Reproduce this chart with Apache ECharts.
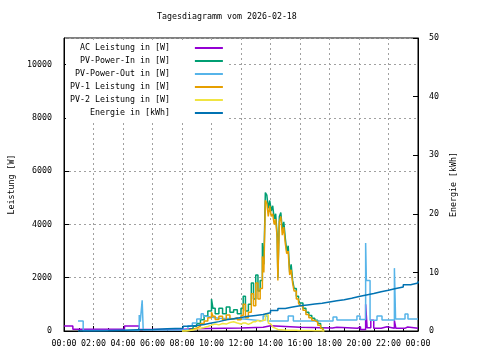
<!DOCTYPE html>
<html><head><meta charset="utf-8">
<script src="https://cdn.jsdelivr.net/npm/echarts@6/dist/echarts.min.js"></script>
<style>html,body{margin:0;padding:0;background:#fff}#c{width:480px;height:360px}</style>
</head><body><div id="c"></div>
<script>
// ---- data (hours of day) ----
var seriesNames = ['AC Leistung in [W]','PV-Power-In in [W]','PV-Power-Out in [W]','PV-1 Leistung in [W]','PV-2 Leistung in [W]','Energie in [kWh]'];
var seriesColors = ['#9400d3','#009e73','#56b4e9','#e69f00','#f0e442','#0072b2'];
var xTickHours = [0,2,4,6,8,10,12,14,16,18,20,22,24];

var acT = [0, 0.6, 4.1, 5.1, 8.0, 8.6, 12.0, 13.5, 14.0, 16.0, 18.2, 18.5, 19.9, 20.1, 20.45, 20.55, 20.8, 21.0, 21.5, 21.9, 22.4, 22.5, 23.1, 23.3, 24];
var acV = [190, 65, 190, 60, 80, 110, 140, 200, 140, 110, 140, 100, 160, 60, 1000, 120, 400, 100, 160, 100, 400, 100, 150, 100, 100];

var pvoT = [0.95, 1.3, 5.1, 5.17, 5.3, 5.37, 8.1, 8.4, 8.7, 9.0, 9.3, 9.45, 9.6, 10.5, 12.2, 13.5, 13.8, 15.2, 15.55, 18.24, 18.5, 19.86, 20.07, 20.45, 20.5, 20.75, 21.22, 21.56, 22.4, 22.48, 23.12, 23.32, 24];
var pvoV = [375, 20, 600, 350, 1150, 40, 60, 200, 300, 450, 650, 550, 480, 450, 380, 560, 380, 560, 380, 530, 410, 560, 430, 3300, 1900, 400, 560, 410, 2360, 450, 640, 450, 450];

var enT = [0.95, 2, 3, 3.6, 5, 6, 7, 8.07, 8.5, 9, 9.5, 10, 10.5, 11, 11.5, 12, 12.5, 13, 13.5, 14, 14.5, 15, 15.5, 16, 16.5, 17, 17.5, 18, 18.5, 19, 19.5, 20, 20.5, 21, 21.5, 22, 22.5, 23, 23.5, 24];
var enV = [0.02, 0.05, 0.1, 0.2, 0.25, 0.4, 0.45, 0.8, 0.95, 1.1, 1.35, 1.6, 1.9, 2.1, 2.3, 2.5, 2.65, 2.8, 3.1, 3.5, 3.85, 4.1, 4.3, 4.45, 4.6, 4.75, 4.95, 5.15, 5.35, 5.6, 5.9, 6.15, 6.4, 6.7, 6.95, 7.25, 7.5, 7.9, 8.2, 8.5];

var pvT = [8.0, 8.25, 8.5, 8.75, 9.0, 9.25, 9.5, 9.75, 10.0, 10.1,
           10.25, 10.5, 10.75, 11.0, 11.25, 11.5, 11.75, 12.0, 12.15, 12.3,
           12.5, 12.7, 12.85, 13.0, 13.15, 13.3, 13.45, 13.55, 13.65, 13.75,
           13.85, 13.95, 14.05, 14.15, 14.25, 14.35, 14.45, 14.5, 14.6, 14.7,
           14.8, 14.9, 15.0, 15.1, 15.2, 15.3, 15.4, 15.5, 15.6, 15.75,
           15.9, 16.0, 16.2, 16.4, 16.6, 16.8, 17.0, 17.2, 17.4, 17.55,
           17.65];
var pvInV = [0, 40, 100, 180, 280, 420, 560, 750, 1200, 850,
             650, 850, 650, 900, 700, 800, 650, 850, 1300, 750,
             1000, 1800, 1200, 2100, 1500, 1900, 3300, 2500, 5200, 5100,
             4600, 4900, 4500, 4700, 4200, 4400, 3600, 2000, 4300, 4450,
             3800, 4100, 3500, 3000, 3200, 2200, 2500, 1900, 1600, 1300,
             1150, 1050, 850, 700, 580, 480, 400, 280, 120, 20,
             0];
var pv1V = [0, 20, 60, 110, 180, 280, 380, 500, 700, 550,
            430, 550, 420, 600, 450, 500, 420, 580, 1000, 500,
            700, 1400, 950, 1800, 1200, 1600, 2800, 2200, 4900, 4800,
            4300, 4700, 4300, 4400, 4000, 4200, 3500, 1900, 4100, 4300,
            3600, 3900, 3300, 2900, 3000, 2100, 2300, 1800, 1500, 1200,
            1050, 950, 780, 620, 500, 400, 330, 220, 90, 10,
            0];
var pv2V = [0, 20, 40, 70, 100, 130, 170, 220, 280, 260,
            230, 280, 260, 320, 350, 300, 260, 300, 300, 250,
            300, 350, 350, 400, 350, 400, 450, 400, 650, 600,
            300, 250, 200, 150, 100, 80, 60, 50, 50, 40,
            40, 40, 30, 30, 30, 30, 30, 30, 30, 20,
            20, 20, 20, 20, 20, 10, 10, 10, 0, 0,
            0];

// ---- chart ----
function pairs(t, v){ return t.map(function(x,i){ return [x, v[i]]; }); }
var FONT = 'DejaVu Sans Mono';
var FS = 8.3;
var chart = echarts.init(document.getElementById('c'), null, {renderer:'canvas'});
function mk(i, t, v, yIdx){
  return { name: seriesNames[i], type:'line', step:'end', yAxisIndex: yIdx, showSymbol:false, symbol:'none',
    data: pairs(t, v), lineStyle:{color: seriesColors[i], width:1.5}, itemStyle:{color: seriesColors[i]}, animation:false };
}
var grid = {left:64, right:62, top:38, bottom:29, show:true, borderColor:'#000', borderWidth:1, backgroundColor:'transparent'};
var dash = {show:true, lineStyle:{color:'#a0a0a0', type:[2,3], width:1}};
chart.setOption({
  animation:false,
  textStyle:{fontFamily:FONT},
  title:{text:'Tagesdiagramm vom 2026-02-18', left:157, top:13, padding:0, textStyle:{fontFamily:FONT, fontSize:FS, fontWeight:'normal', color:'#000'}},
  grid: grid,
  legend:{orient:'vertical', left:66, top:40, padding:[2,5,3,4], align:'right', itemWidth:28, itemHeight:12, itemGap:1,
    backgroundColor:'#fff', data: seriesNames, selectedMode:false,
    itemStyle:{opacity:0},
    textStyle:{fontFamily:FONT, fontSize:FS, color:'#000', lineHeight:12},
    formatter:function(n){ return n.padStart(20,' ') + '    '; }},
  xAxis:{type:'value', min:0, max:24, interval:2,
    axisLine:{show:true, lineStyle:{color:'#000'}},
    axisTick:{show:true, inside:true, length:5, lineStyle:{color:'#000'}},
    minorTick:{show:true, splitNumber:2, length:3, lineStyle:{color:'#000'}},
    splitLine: dash,
    axisLabel:{fontFamily:FONT, fontSize:FS, color:'#000', margin:9,
      formatter:function(v){ var h = v % 24; return (h<10?'0':'') + h + ':00'; }}},
  yAxis:[
    {type:'value', min:0, max:11000, interval:2000, position:'left',
      name:'Leistung [W]', nameLocation:'middle', nameGap:32, nameRotate:90,
      nameTextStyle:{fontFamily:FONT, fontSize:FS, color:'#000'},
      axisLine:{show:true, lineStyle:{color:'#000'}},
      axisTick:{show:true, inside:true, length:5, lineStyle:{color:'#000'}},
      splitLine: dash,
      axisLabel:{fontFamily:FONT, fontSize:FS, color:'#000', margin:12, showMaxLabel:false,
        formatter:function(v){ return String(v); }}},
    {type:'value', min:0, max:50, interval:10, position:'right',
      name:'Energie [kWh]', nameLocation:'middle', nameGap:31, nameRotate:90,
      nameTextStyle:{fontFamily:FONT, fontSize:FS, color:'#000'},
      axisLine:{show:true, lineStyle:{color:'#000'}},
      axisTick:{show:true, inside:true, length:5, lineStyle:{color:'#000'}},
      splitLine:{show:false},
      axisLabel:{fontFamily:FONT, fontSize:FS, color:'#000', margin:11,
        formatter:function(v){ return String(v); }}}
  ],
  series:[
    mk(0, acT, acV, 0),
    mk(1, pvT, pvInV, 0),
    mk(2, pvoT, pvoV, 0),
    mk(3, pvT, pv1V, 0),
    mk(4, pvT, pv2V, 0),
    mk(5, enT, enV, 1)
  ]
});
</script></body></html>
